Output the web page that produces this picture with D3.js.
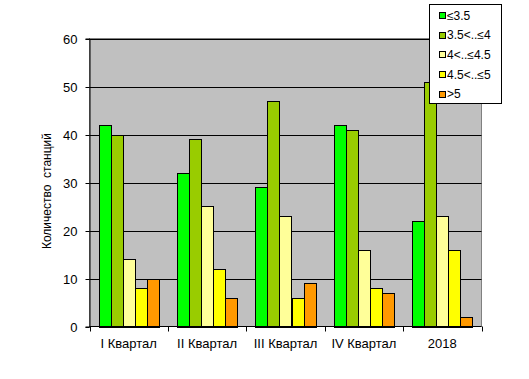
<!DOCTYPE html>
<html><head><meta charset="utf-8">
<script src="https://cdn.jsdelivr.net/npm/d3@7"></script>
<style>body{margin:0;background:#fff}svg{display:block;font-family:Arial,"Liberation Sans",sans-serif}</style>
</head><body><svg id="c" width="529" height="379"></svg>
<script>
const categories = ["I Квартал","II Квартал","III Квартал","IV Квартал","2018"];
const seriesNames = ["≤3.5","3.5<..≤4","4<..≤4.5","4.5<..≤5",">5"];
const colors = ["#00FF00","#99CC00","#FFFF99","#FFFF00","#FF9900"];
const s1 = [42,32,29,42,22];
const s2 = [40,39,47,41,51];
const s3 = [14,25,23,16,23];
const s4 = [8,12,6,8,16];
const s5 = [10,6,9,7,2];
const series = [s1,s2,s3,s4,s5];
const yTicks = [0,10,20,30,40,50,60];

const svg = d3.select("#c");
const L=89.5, R=481.5, T=38.5, B=326.5;
const x = d3.scaleBand().domain(categories).range([L,R]).paddingInner(0.23).paddingOuter(0.115);
const xs = d3.scaleBand().domain(d3.range(5)).range([0,x.bandwidth()]);
const y = d3.scaleLinear().domain([0,60]).range([B,T]);

svg.append("rect").attr("x",L).attr("y",T).attr("width",R-L).attr("height",B-T).attr("fill","#C0C0C0").attr("stroke","#808080");
svg.append("g").selectAll("line").data(yTicks.filter(d=>d>0)).join("line")
  .attr("x1",L).attr("x2",R).attr("y1",d=>Math.round(y(d))+0.5).attr("y2",d=>Math.round(y(d))+0.5).attr("stroke","#000");

const g = svg.append("g");
series.forEach((vals,si)=>{
  g.selectAll(null).data(vals).join("rect")
    .attr("x",(d,i)=>Math.round(x(categories[i])+xs(si))+0.5)
    .attr("width",Math.round(xs.bandwidth()))
    .attr("y",d=>Math.round(y(d))+0.5)
    .attr("height",d=>Math.round(y(0))-Math.round(y(d)))
    .attr("fill",colors[si]).attr("stroke","#000");
});

// axes
const yAxis = svg.append("g").attr("transform",`translate(${L},0)`)
  .call(d3.axisLeft(y).tickValues(yTicks).tickSize(4).tickPadding(8));
yAxis.select(".domain").attr("stroke","#000");
yAxis.selectAll("text").attr("font-size","13px").attr("fill","#000").attr("font-family","Arial,'Liberation Sans',sans-serif");
yAxis.selectAll(".tick").attr("transform",d=>`translate(0,${Math.round(y(d))+0.5})`);

svg.append("line").attr("x1",L).attr("x2",R).attr("y1",B).attr("y2",B).attr("stroke","#000");
const bounds = d3.range(categories.length+1).map(i=>L + i*(R-L)/categories.length);
svg.append("g").selectAll("line").data(bounds).join("line")
  .attr("x1",d=>Math.round(d)+0.5).attr("x2",d=>Math.round(d)+0.5).attr("y1",B).attr("y2",B+5).attr("stroke","#000");
svg.append("g").selectAll("text").data(categories).join("text")
  .attr("x",d=>x(d)+x.bandwidth()/2).attr("y",348).attr("text-anchor","middle")
  .attr("font-size","13px").attr("fill","#000").text(d=>d);

svg.append("text").attr("transform","translate(51,191) rotate(-90)").attr("text-anchor","middle")
  .attr("font-size","12px").attr("fill","#000").style("white-space","pre").text("Количество  станций");

// legend
const lg = svg.append("g");
lg.append("rect").attr("x",429.5).attr("y",4.5).attr("width",72).attr("height",99).attr("fill","#fff").attr("stroke","#000");
seriesNames.forEach((n,i)=>{
  const cy = 15 + i*19.7;
  lg.append("rect").attr("x",439.5).attr("y",Math.round(cy-3)+0.5).attr("width",6).attr("height",6).attr("fill",colors[i]).attr("stroke","#000");
  lg.append("text").attr("x",447).attr("y",cy+4.5).attr("font-size","12px").attr("fill","#000").text(n);
});
</script></body></html>
